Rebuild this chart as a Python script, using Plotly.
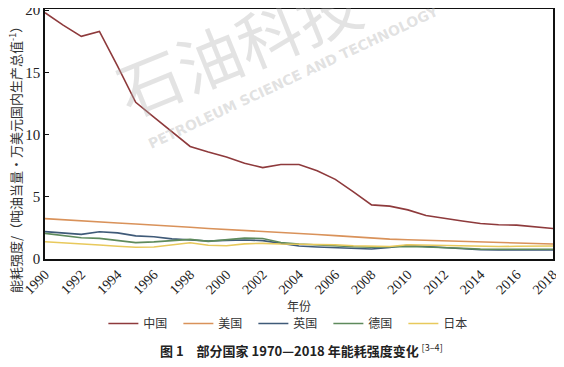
import plotly.graph_objects as go

years = list(range(1990, 2019))
china = [19.8, 18.8, 17.9, 18.3, 15.5, 12.6, 11.4, 10.2, 9.05, 8.6, 8.2, 7.7, 7.35, 7.6, 7.6, 7.1,
         6.4, 5.4, 4.35, 4.25, 3.95, 3.5, 3.25, 3.05, 2.85, 2.75, 2.72, 2.6, 2.45]
usa = [3.25, 3.15, 3.05, 2.98, 2.9, 2.82, 2.75, 2.65, 2.55, 2.45, 2.38, 2.3, 2.22, 2.14, 2.06, 1.97,
       1.88, 1.78, 1.68, 1.6, 1.55, 1.5, 1.45, 1.42, 1.38, 1.32, 1.26, 1.22, 1.2]
uk = [2.2, 2.08, 1.98, 2.19, 2.1, 1.86, 1.79, 1.62, 1.55, 1.45, 1.5, 1.53, 1.48, 1.25, 1.04, 0.97,
      0.93, 0.84, 0.8, 0.92, 1.1, 1.0, 0.9, 0.82, 0.74, 0.73, 0.73, 0.72, 0.72]
germany = [2.06, 1.88, 1.71, 1.66, 1.5, 1.32, 1.38, 1.47, 1.58, 1.42, 1.55, 1.68, 1.65, 1.32, 1.2, 1.12,
           1.08, 0.98, 0.95, 1.0, 1.0, 0.97, 0.93, 0.86, 0.79, 0.8, 0.8, 0.79, 0.78]
japan = [1.39, 1.28, 1.2, 1.12, 1.02, 0.95, 0.97, 1.12, 1.3, 1.1, 1.07, 1.22, 1.26, 1.2, 1.18, 1.18,
         1.14, 1.06, 1.02, 1.0, 1.15, 1.12, 1.08, 1.02, 0.99, 1.0, 1.02, 1.04, 1.05]

names = ["中国", "美国", "英国", "德国", "日本"]
colors = ["#8e3a3c", "#d9925a", "#3f5a78", "#5e8a5c", "#e8c95c"]
series = [china, usa, uk, germany, japan]

fig = go.Figure()
for n, c, s in zip(names, colors, series):
    fig.add_trace(go.Scatter(x=years, y=s, mode="lines", name=n,
                             line=dict(color=c, width=1.6)))

serif = "Liberation Serif"
cjk = "Noto Sans CJK SC"

# the page body adds an 8px offset, so the figure is sized 8px smaller
fig.update_layout(
    width=556, height=359,
    margin=dict(l=37, r=11, t=1, b=108, autoexpand=False),
    paper_bgcolor="white", plot_bgcolor="white",
    showlegend=True,
    legend=dict(orientation="h", x=0.484, xanchor="center", y=-0.2, yanchor="top",
                font=dict(family=cjk, size=12, color="#333"), itemwidth=30,
                entrywidth=30, entrywidthmode="pixels",
                tracegroupgap=0, bgcolor="rgba(0,0,0,0)"),
    xaxis=dict(range=[1990, 2018], tickmode="array", tickvals=list(range(1990, 2019, 2)),
               ticktext=[str(y) for y in range(1990, 2019, 2)], tickangle=-45,
               tickfont=dict(family=serif, size=14, color="#222"), ticks="",
               ticklabeloverflow="allow",
               showline=True, linecolor="#111", linewidth=1.5, mirror=True,
               showgrid=False, zeroline=False,
               title=dict(text="年份", font=dict(family=cjk, size=12, color="#333"), standoff=6)),
    yaxis=dict(range=[0, 20.1], tickvals=[0, 5, 10, 15, 20], ticks="inside", ticklen=4,
               tickcolor="#111", tickfont=dict(family=serif, size=15, color="#222"),
               ticklabeloverflow="allow",
               showline=True, linecolor="#111", linewidth=1.5, mirror=True,
               showgrid=False, zeroline=False),
)

# y-axis title
fig.add_annotation(text="能耗强度/（吨油当量·万美元国内生产总值<sup>-1</sup>）",
                   xref="paper", yref="paper", x=-0.06, y=0.41, xanchor="center",
                   yanchor="middle", textangle=-90, showarrow=False,
                   font=dict(family=cjk, size=13, color="#333"))

# watermark
fig.add_annotation(text="石油科技", xref="paper", yref="paper", x=0.38, y=0.86,
                   xanchor="center", yanchor="middle",
                   showarrow=False, textangle=-22,
                   font=dict(family=cjk, size=64, color="rgba(170,170,170,0.33)"))
fig.add_annotation(text="<b>PETROLEUM SCIENCE AND TECHNOLOGY</b>", xref="paper", yref="paper",
                   x=0.49, y=0.73, xanchor="center", yanchor="middle",
                   showarrow=False, textangle=-25,
                   font=dict(family="DejaVu Sans", size=14, color="rgba(180,180,180,0.4)"))

# caption
fig.add_annotation(text="<b>图 1　部分国家 1970—2018 年能耗强度变化</b> <sup>[3–4]</sup>",
                   xref="paper", yref="paper", x=0.505, y=-0.364, yanchor="middle",
                   xanchor="center", showarrow=False,
                   font=dict(family=cjk, size=13, color="#222"))

fig.write_html("out.html")
